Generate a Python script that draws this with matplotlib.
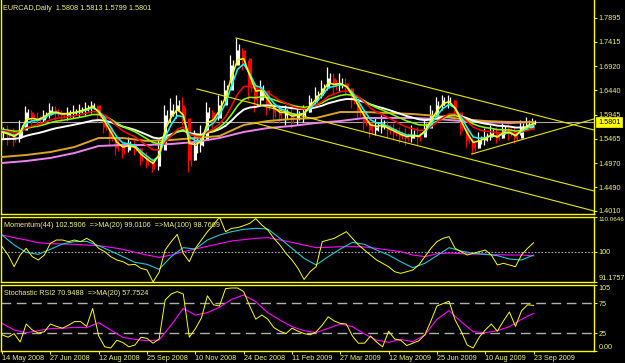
import matplotlib
matplotlib.use("Agg")
import matplotlib.pyplot as plt
import numpy as np
import pandas as pd

plt.rcParams['font.family'] = ['Liberation Sans', 'DejaVu Sans']

# EURCAD daily, one sample every 4 bars from 14 May 2008 to 23 Sep 2009
bar_step = 4
closes = [1.5600, 1.5540, 1.5479, 1.5640, 1.6002, 1.5882, 1.5841, 1.5942, 1.6043, 1.6002,
          1.5942, 1.5982, 1.6002, 1.6043, 1.6083, 1.6143, 1.5942, 1.5701, 1.5479, 1.5278,
          1.5238, 1.5338, 1.5278, 1.5077, 1.4996, 1.4915, 1.5238, 1.5942, 1.6043, 1.6143,
          1.5882, 1.5036, 1.5338, 1.5439, 1.6002, 1.5882, 1.6143, 1.6445, 1.6949, 1.7251,
          1.7090, 1.6546, 1.6244, 1.6445, 1.6143, 1.6002, 1.5942, 1.5982, 1.5882, 1.5942,
          1.6002, 1.6204, 1.6345, 1.6486, 1.6687, 1.6546, 1.6586, 1.6486, 1.6244, 1.6002,
          1.5801, 1.5640, 1.5701, 1.5741, 1.5640, 1.5580, 1.5519, 1.5479, 1.5540, 1.5499,
          1.5680, 1.5942, 1.6143, 1.6244, 1.6244, 1.6002, 1.5680, 1.5439, 1.5278, 1.5439,
          1.5499, 1.5580, 1.5479, 1.5640, 1.5600, 1.5479, 1.5701, 1.5761, 1.5801]
highs = [1.5801, 1.5741, 1.5680, 1.5841, 1.6123, 1.6043, 1.6002, 1.6043, 1.6184, 1.6123,
         1.6043, 1.6103, 1.6143, 1.6164, 1.6204, 1.6224, 1.6143, 1.5942, 1.5680, 1.5499,
         1.5399, 1.5499, 1.5439, 1.5278, 1.5197, 1.5077, 1.5439, 1.6143, 1.6284, 1.6345,
         1.6304, 1.5741, 1.5640, 1.5741, 1.6204, 1.6043, 1.6345, 1.6647, 1.7150, 1.7492,
         1.7291, 1.7049, 1.6445, 1.6647, 1.6385, 1.6204, 1.6143, 1.6143, 1.6083, 1.6083,
         1.6143, 1.6345, 1.6506, 1.6647, 1.6908, 1.6788, 1.6788, 1.6687, 1.6486, 1.6244,
         1.6002, 1.5841, 1.5882, 1.5942, 1.5841, 1.5781, 1.5701, 1.5680, 1.5741, 1.5701,
         1.5882, 1.6143, 1.6304, 1.6345, 1.6345, 1.6244, 1.5942, 1.5640, 1.5479, 1.5600,
         1.5680, 1.5741, 1.5701, 1.5781, 1.5761, 1.5721, 1.5841, 1.5902, 1.5882]
lows = [1.5338, 1.5338, 1.5318, 1.5399, 1.5741, 1.5741, 1.5701, 1.5801, 1.5882, 1.5841,
        1.5801, 1.5841, 1.5882, 1.5902, 1.5942, 1.5982, 1.5801, 1.5580, 1.5338, 1.5137,
        1.5077, 1.5197, 1.5137, 1.4936, 1.4875, 1.4795, 1.4835, 1.5640, 1.5801, 1.5882,
        1.5741, 1.4795, 1.5036, 1.5197, 1.5741, 1.5680, 1.5841, 1.6244, 1.6647, 1.6949,
        1.6848, 1.6244, 1.6002, 1.6143, 1.5942, 1.5801, 1.5781, 1.5741, 1.5680, 1.5741,
        1.5801, 1.6002, 1.6143, 1.6284, 1.6445, 1.6345, 1.6405, 1.6345, 1.6083, 1.5841,
        1.5640, 1.5499, 1.5540, 1.5580, 1.5479, 1.5439, 1.5379, 1.5338, 1.5399, 1.5338,
        1.5540, 1.5741, 1.5942, 1.6043, 1.6083, 1.5841, 1.5540, 1.5298, 1.5157, 1.5278,
        1.5338, 1.5439, 1.5379, 1.5479, 1.5439, 1.5379, 1.5540, 1.5640, 1.5721]

# fast moving averages (EMA periods in bars) and their values at the first bar
ema_periods = [8, 13, 34, 55, 89]
ema_seeds = [1.5600, 1.5620, 1.5640, 1.5660, 1.5440]
ema_colors = ['#FFFF00', '#00FFFF', '#FF0000', '#7FFF00', '#FFFFFF']

# slow moving averages, read every 16 bars
slow_step = 16
orange_ma = [1.5097, 1.5137, 1.5197, 1.5298, 1.5479, 1.5479, 1.5419, 1.5439, 1.5479, 1.5519,
             1.5741, 1.5821, 1.5862, 1.5882, 1.6002, 1.6002, 1.5982, 1.5962, 1.5922, 1.5862,
             1.5821, 1.5801, 1.5801]
pink_ma = [1.4976, 1.5016, 1.5077, 1.5177, 1.5318, 1.5338, 1.5338, 1.5358, 1.5399, 1.5479,
           1.5600, 1.5680, 1.5721, 1.5781, 1.5821, 1.5882, 1.5882, 1.5882, 1.5862, 1.5821,
           1.5801, 1.5781, 1.5801]

# trend lines: (bar index pairs, price pairs)
trend_x = [[155, 392], [129, 392], [167.5, 392], [311, 392]]
trend_y = [[1.7492, 1.5640], [1.6466, 1.4413], [1.5781, 1.4010], [1.5157, 1.5862]]
bid = 1.5801

price_ticks = [1.7895, 1.7415, 1.6920, 1.6440, 1.5945, 1.5465, 1.4970, 1.4490, 1.4010]

# Momentum(44), every 4 bars; its MAs every 8 bars
ind_step = 8
momentum = [101.44, 99.02, 95.63, 99.02, 100.96, 98.54, 97.57, 99.02, 102.41, 103.38,
            103.38, 102.90, 103.38, 102.90, 103.87, 102.90, 100.96, 99.99, 98.54, 97.57,
            97.08, 96.12, 96.31, 95.14, 94.66, 91.18, 94.00, 100.47, 102.90, 105.00,
            99.51, 97.08, 100.96, 103.38, 105.80, 107.74, 110.06, 105.80, 106.77, 106.97,
            107.55, 108.22, 109.60, 107.74, 106.29, 103.87, 101.93, 99.51, 97.57, 95.14,
            91.90, 94.17, 95.63, 102.90, 103.38, 103.87, 104.83, 105.80, 103.87, 101.93,
            100.47, 99.02, 97.57, 96.60, 95.63, 94.17, 93.69, 94.17, 94.66, 96.12,
            98.54, 100.96, 102.90, 103.87, 104.35, 100.96, 99.99, 99.02, 99.51, 99.99,
            100.47, 99.02, 96.12, 96.60, 96.12, 95.63, 99.02, 100.96, 102.59]
mom_ma20 = [104.83, 101.93, 99.80, 99.22, 100.67, 102.22, 102.90, 102.99, 101.73, 100.18,
            98.54, 96.89, 96.31, 94.86, 98.54, 101.15, 100.77, 103.38, 104.83, 105.80,
            106.48, 106.77, 106.58, 103.87, 100.96, 98.05, 96.12, 98.54, 100.77, 102.70,
            102.12, 100.47, 99.02, 97.08, 95.34, 96.60, 98.83, 101.15, 100.18, 99.51,
            99.22, 98.83, 97.86, 97.57, 99.01]
mom_ma100 = [104.83, 104.06, 103.38, 102.61, 102.32, 102.22, 102.12, 101.93, 101.73, 101.25,
             100.67, 99.80, 99.02, 98.34, 99.02, 99.99, 100.77, 101.54, 102.32, 103.09,
             103.48, 103.87, 104.06, 103.38, 102.70, 101.93, 101.15, 101.25, 101.44, 101.44,
             101.35, 100.96, 100.47, 99.99, 99.02, 98.54, 99.41, 99.60, 99.41, 99.31,
             99.22, 99.12, 99.02, 99.02, 98.77]

# Stochastic RSI, every 4 bars; its MA(20) every 8 bars
stoch = [22, 18, 24, 10, 40, 30, 25, 27, 40, 36,
         33, 38, 44, 44, 36, 66, 20, 2, 0, 13,
         9, 2, 5, 18, 16, 8, 15, 80, 90, 94,
         90, 18, 32, 50, 87, 72, 70, 99, 100, 100,
         94, 70, 48, 55, 48, 34, 28, 24, 33, 28,
         24, 22, 27, 38, 52, 45, 41, 40, 20, 8,
         8, 20, 10, 2, 28, 15, 13, 4, 8, 12,
         22, 45, 70, 74, 78, 47, 28, 5, 0, 18,
         30, 40, 28, 45, 60, 36, 62, 72, 70.95]
stoch_ma20 = [41.1, 30.0, 25.6, 28.9, 32.2, 32.8, 34.4, 33.9, 42.2, 30.0,
              17.8, 14.4, 12.2, 13.3, 38.3, 66.1, 55.0, 58.9, 67.8, 81.1,
              88.3, 77.2, 58.9, 46.7, 35.6, 28.9, 25.6, 32.8, 40.0, 35.6,
              23.3, 13.3, 9.4, 14.4, 10.5, 21.7, 47.8, 62.2, 43.9, 27.2,
              25.6, 28.9, 35.6, 47.8, 57.75]

date_labels = ['14 May 2008', '27 Jun 2008', '12 Aug 2008', '25 Sep 2008', '10 Nov 2008',
               '24 Dec 2008', '11 Feb 2009', '27 Mar 2009', '12 May 2009', '25 Jun 2009',
               '10 Aug 2009', '23 Sep 2009']
date_every = 32

FG = '#FFFF00'
TXT = '#F2F27A'
FS = 5.2

W, H = 625, 363


def rect(x0, y0, x1, y1):
    return [x0 / W, 1 - y1 / H, (x1 - x0) / W, (y1 - y0) / H]


def style(ax, top=True):
    ax.set_facecolor('black')
    for side in ['left', 'right', 'bottom', 'top']:
        ax.spines[side].set_color(FG)
        ax.spines[side].set_linewidth(1.0)
    ax.spines['top'].set_visible(top)
    ax.yaxis.tick_right()
    ax.tick_params(axis='y', colors=FG, labelcolor=TXT, labelsize=FS, length=2.2,
                   width=0.7, pad=1)
    ax.tick_params(axis='x', bottom=False, labelbottom=False)
    ax.set_xlim(-0.7, 392)


def ema(values, seed, n, step):
    a = 1 - (1 - 2.0 / (n + 1)) ** step
    s = pd.Series([seed] + list(values))
    return s.ewm(alpha=a, adjust=False).mean().values[1:]


fig = plt.figure(figsize=(6.25, 3.63), dpi=100, facecolor='black')
ax1 = fig.add_axes(rect(1, 0, 594, 214))
ax2 = fig.add_axes(rect(1, 217, 594, 282))
ax3 = fig.add_axes(rect(1, 285, 594, 351))

# main price window
style(ax1, top=False)
c = np.array(closes)
h = np.array(highs)
l = np.array(lows)
o = np.r_[c[0], c[:-1]]
idx = np.arange(len(c)) * bar_step
up = c >= o
ax1.axhline(bid, color='#A8A8A8', lw=0.8, zorder=1)
for mask, col in [(up, '#FFFFFF'), (~up, '#FF0000')]:
    # wicks drawn as a pair of thin spikes so the bars look dense like daily candles
    ax1.vlines(idx[mask] - 0.9, l[mask], h[mask], color=col, lw=0.9, zorder=2)
    ax1.vlines(idx[mask] + 0.9, (l[mask] + c[mask]) / 2, (h[mask] + c[mask]) / 2,
               color=col, lw=0.9, zorder=2)
    ax1.vlines(idx[mask], np.minimum(o, c)[mask], np.maximum(o, c)[mask],
               color=col, lw=2.2, zorder=2)

slow_idx = np.arange(len(orange_ma)) * slow_step
ax1.plot(slow_idx, pink_ma, color='#EE82EE', lw=1.4, zorder=3)
ax1.plot(slow_idx, orange_ma, color='#DAA520', lw=1.4, zorder=3)
for n, seed, col in reversed(list(zip(ema_periods, ema_seeds, ema_colors))):
    ax1.plot(idx, ema(closes, seed, n, bar_step), color=col,
             lw=1.4 if col == '#FFFFFF' else 1.15, zorder=4)

for tx, ty in zip(trend_x, trend_y):
    ax1.plot(tx, ty, color='#E6E600', lw=0.8, zorder=5)

ax1.set_ylim(1.3949, 1.8257)
ax1.set_yticks(price_ticks)
ax1.set_yticklabels(['%.4f' % p for p in price_ticks])
ax1.annotate('%.4f' % bid, xy=(1.0, bid), xycoords=('axes fraction', 'data'),
             xytext=(3, 0), textcoords='offset points', va='center', ha='left',
             fontsize=FS, color='black',
             bbox=dict(boxstyle='square,pad=0.25', fc=FG, ec=FG, lw=0.5),
             annotation_clip=False)
fig.text(3 / W, 1 - 8 / H, 'EURCAD,Daily  1.5808 1.5813 1.5799 1.5801',
         color=TXT, fontsize=FS, va='center', ha='left')

# momentum window
style(ax2)
ind_idx = np.arange(len(mom_ma20)) * ind_step
ax2.axhline(100, color='#A8A8A8', lw=0.8, ls=(0, (1.5, 1.5)), zorder=1)
ax2.plot(ind_idx, mom_ma100, color='#FF00FF', lw=0.8, zorder=2)
ax2.plot(ind_idx, mom_ma20, color='#20C8D8', lw=0.8, zorder=3)
ax2.plot(idx, momentum, color='#FFFF00', lw=0.7, zorder=4)
ax2.set_ylim(91.1757, 110.0646)
ax2.set_yticks([110.0646, 100, 91.1757])
ax2.set_yticklabels(['110.0646', '100', '91.1757'])
ax2.get_yticklabels()[0].set_va('top')
ax2.get_yticklabels()[0].set_fontsize(4.5)
ax2.get_yticklabels()[2].set_va('bottom')
ax2.text(3 / 593, 0.93, 'Momentum(44) 102.5906  =>MA(20) 99.0106  =>MA(100) 98.7669',
         transform=ax2.transAxes, color=TXT, fontsize=FS, va='top', ha='left')

# stochastic RSI window
style(ax3)
for lvl in [75, 25]:
    ax3.axhline(lvl, color='#B0B0B0', lw=1.0, ls=(0, (7, 4)), zorder=1)
ax3.plot(ind_idx, stoch_ma20, color='#FF00FF', lw=0.8, zorder=2)
ax3.plot(idx, stoch, color='#FFFF00', lw=0.7, zorder=3)
ax3.set_ylim(-5, 105)
ax3.set_yticks([105, 75, 25, -5])
ax3.set_yticklabels(['105', '75', '25', '0.00'])
ax3.get_yticklabels()[0].set_va('top')
ax3.get_yticklabels()[3].set_va('bottom')
ax3.text(3 / 593, 0.93, 'Stochastic RSI2 70.9488  =>MA(20) 57.7524',
         transform=ax3.transAxes, color=TXT, fontsize=FS, va='top', ha='left')
ax3.tick_params(axis='x', bottom=True, labelbottom=True, colors=FG, labelcolor=TXT,
                labelsize=FS, length=2.2, width=0.7, pad=1)
ax3.set_xticks(np.arange(len(date_labels)) * date_every)
ax3.set_xticklabels(date_labels, ha='left')

fig.savefig('out.png', dpi=100, facecolor='black')
